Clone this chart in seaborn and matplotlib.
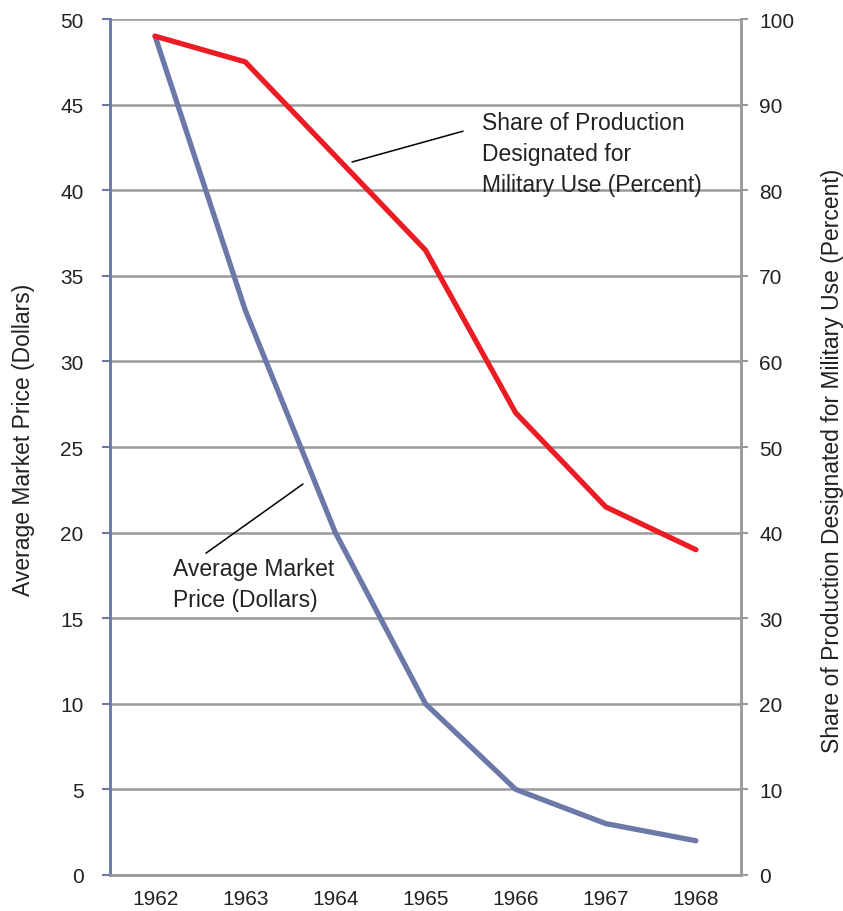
import matplotlib.pyplot as plt
import numpy as np
import pandas as pd
import seaborn as sns

years = ["1962", "1963", "1964", "1965", "1966", "1967", "1968"]
price = [49, 33, 20, 10, 5, 3, 2]
military_share = [98, 95, 84, 73, 54, 43, 38]

sns.set_theme(style="white")
plt.rcParams["font.family"] = ["Liberation Sans", "DejaVu Sans"]

BLUE = "#6c78a8"
RED = "#ec1c24"
GRID = "#9a9a9a"
TXT = "#222222"

df = pd.DataFrame({"pos": np.arange(len(years)), "year": years,
                   "price": price, "share": military_share})

fig = plt.figure(figsize=(8.43, 9.12), dpi=100)
ax = fig.add_axes([0.1305, 0.0395, 0.7485, 0.9385])
ax2 = ax.twinx()

sns.lineplot(data=df, x="pos", y="price", ax=ax, color=BLUE, lw=3.8,
             solid_capstyle="round", zorder=3)
sns.lineplot(data=df, x="pos", y="share", ax=ax2, color=RED, lw=3.8,
             solid_capstyle="round", zorder=3)

ax.set_xlim(-0.5, len(years) - 0.5)
ax.set_ylim(0, 50)
ax2.set_ylim(0, 100)
ax.set_yticks(np.arange(0, 51, 5))
ax2.set_yticks(np.arange(0, 101, 10))
ax.yaxis.grid(True, color=GRID, lw=1.8)
ax.set_axisbelow(True)

ax.set_xticks(df["pos"])
ax.set_xticklabels(years)
ax.set_xticks(np.arange(-0.5, len(years), 1), minor=True)
ax.tick_params(axis="x", which="major", length=0, pad=10, labelsize=15,
               labelcolor=TXT)
ax.tick_params(axis="x", which="minor", length=7, width=1.5, color=GRID,
               direction="out")
ax.tick_params(axis="y", length=6, width=1.5, color=BLUE, labelsize=15,
               direction="out", pad=13, labelcolor=TXT)
ax2.tick_params(axis="y", length=5, width=1.5, color=GRID, labelsize=15,
                direction="out", pad=8, labelcolor=TXT)

for a in (ax, ax2):
    a.spines["top"].set_visible(False)
    a.spines["bottom"].set_color(GRID)
    a.spines["bottom"].set_linewidth(1.8)
    a.spines["left"].set_color(BLUE)
    a.spines["left"].set_linewidth(1.8)
    a.spines["right"].set_color(GRID)
    a.spines["right"].set_linewidth(1.8)

ax.set_xlabel("")
ax.set_ylabel("Average Market Price (Dollars)", fontsize=16.5, color=TXT)
ax2.set_ylabel("Share of Production Designated for Military Use (Percent)",
               fontsize=16.5, color=TXT)
ax.yaxis.set_label_coords(-0.119, 0.51)
ax2.yaxis.set_label_coords(1.127, 0.485)

# callout for the military share line
ax2.annotate("", xy=(2.185, 83.3), xytext=(3.416, 86.9),
             arrowprops=dict(arrowstyle="-", color="black", lw=1.1,
                             shrinkA=0, shrinkB=0))
ax2.text(3.627, 84.3, "Share of Production\nDesignated for\nMilitary Use (Percent)",
         fontsize=16.5, ha="left", va="center", linespacing=1.45, color=TXT)

# callout for the price line
ax.annotate("", xy=(1.641, 22.84), xytext=(0.565, 18.8),
            arrowprops=dict(arrowstyle="-", color="black", lw=1.1,
                            shrinkA=0, shrinkB=0))
ax.text(0.199, 17.0, "Average Market\nPrice (Dollars)", fontsize=16.5,
        ha="left", va="center", linespacing=1.4, color=TXT)

fig.savefig("out.png", dpi=100)
